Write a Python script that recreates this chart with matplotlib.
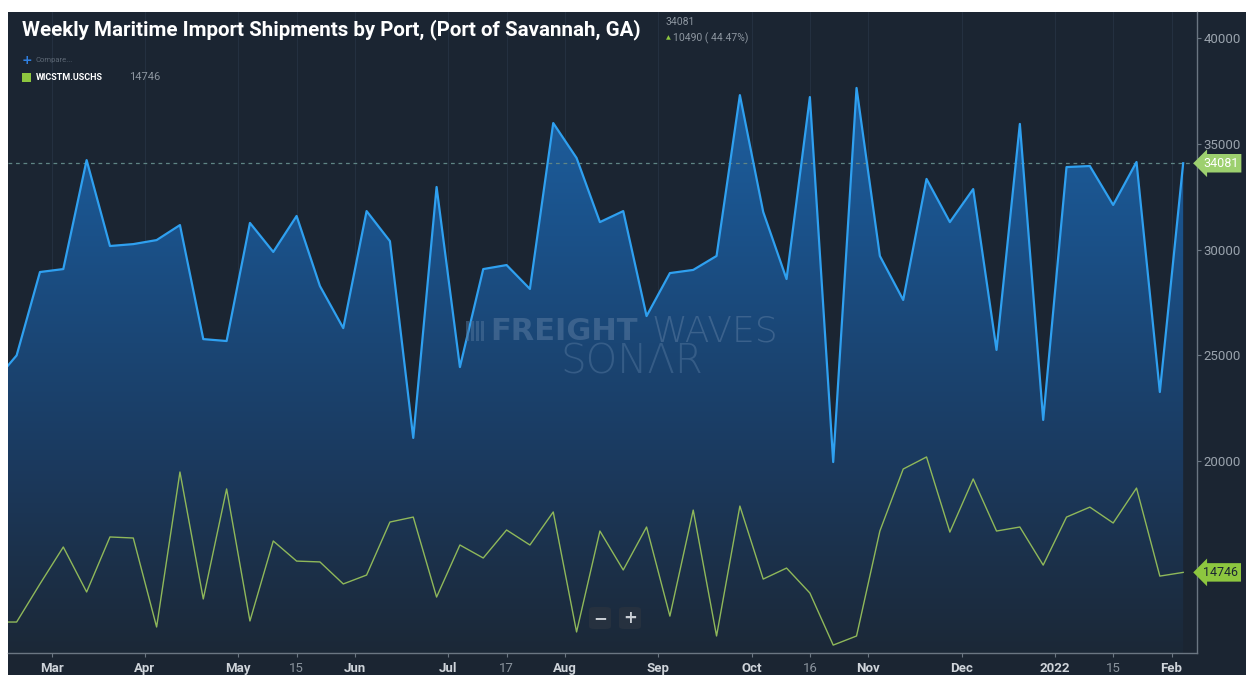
import matplotlib
matplotlib.use("Agg")
import matplotlib.pyplot as plt
import numpy as np
from matplotlib.colors import LinearSegmentedColormap
from matplotlib.patches import Rectangle, FancyBboxPatch
from matplotlib import transforms

# weekly points (index 0 sits just left of the visible area)
weeks = np.arange(52)
shipments_sav = [
    23700, 25000, 28940, 29080, 34230, 30170, 30260, 30450, 31160, 25770,
    25680, 31260, 29890, 31590, 28280, 26290, 31820, 30400, 21100, 32960,
    24450, 29080, 29270, 28140, 35980, 34330, 31300, 31820, 26860, 28890,
    29040, 29700, 37300, 31780, 28610, 37210, 19960, 37640, 29700, 27620,
    33340, 31300, 32860, 25260, 35940, 21950, 33900, 33950, 32110, 34140,
    23270, 34081,
]
shipments_chs = [
    12400, 12400, 14200, 15945, 13820, 16420, 16370, 12165, 19490, 13490,
    18690, 12450, 16230, 15280, 15240, 14200, 14620, 17125, 17360, 13580,
    16040, 15425, 16750, 16040, 17600, 11930, 16700, 14860, 16890, 12680,
    17690, 11740, 17880, 14430, 14950, 13770, 11310, 11740, 16700, 19630,
    20200, 16650, 19160, 16700, 16890, 15090, 17360, 17830, 17080, 18730,
    14570, 14746,
]
tick_pos = [2.5, 6.5, 10.5, 13, 15.5, 19.5, 22, 24.5, 28.5, 32.5, 35, 37.5,
            41.5, 45.5, 48, 50.5]
tick_labels = ["Mar", "Apr", "May", "15", "Jun", "Jul", "17", "Aug", "Sep",
               "Oct", "16", "Nov", "Dec", "2022", "15", "Feb"]
y_ticks = [20000, 25000, 30000, 35000, 40000]

W, H = 1246, 675
BG = "#1b2532"
BLUE = "#2fa0f0"
GREEN = "#8fb85a"
AXIS = "#6b7682"
WM = "#4d7199"

fig = plt.figure(figsize=(W / 100, H / 100), dpi=100, facecolor="white")


def px(x, y):
    return x / W, 1 - y / H


# dark card behind everything
fig.patches.append(Rectangle(px(8, 675), (W - 8) / W, (675 - 12) / H,
                             transform=fig.transFigure, facecolor=BG,
                             edgecolor="none", zorder=-5))

left, right, bottom, top = 8, 1196.7, 653.3, 12
ax = fig.add_axes([left / W, 1 - bottom / H, (right - left) / W, (bottom - top) / H])
ax.set_facecolor(BG)
xmin, xmax = 0.63, 51.58
ymin, ymax = 10922, 41229

# vertical grid
for t in tick_pos:
    ax.axvline(t, color="#243040", lw=0.8, zorder=0.5)

# gradient fill under the blue line
poly = ax.fill_between(weeks, shipments_sav, ymin, facecolor="none", edgecolor="none")
cmap = LinearSegmentedColormap.from_list(
    "fade", [(0, "#1c2837"), (0.3, "#1b3a5f"), (0.65, "#1a5189"), (1, "#2066aa")])
grad = np.linspace(0, 1, 256).reshape(-1, 1)
im = ax.imshow(grad, extent=[xmin, xmax, ymin, ymax], aspect="auto",
               origin="lower", cmap=cmap, zorder=1, interpolation="bilinear")
im.set_clip_path(poly.get_paths()[0], transform=ax.transData)

ax.plot(weeks, shipments_sav, color=BLUE, lw=1.6, zorder=3)
ax.plot(weeks, shipments_chs, color=GREEN, lw=1.0, zorder=3)
ax.axhline(shipments_sav[-1], color="#5f8585", lw=0.9, ls=(0, (3, 3)), zorder=2)

ax.set_xlim(xmin, xmax)
ax.set_ylim(ymin, ymax)

for s in ["top", "left"]:
    ax.spines[s].set_visible(False)
for s in ["bottom", "right"]:
    ax.spines[s].set_color(AXIS)
    ax.spines[s].set_linewidth(1.0)

ax.set_xticks(tick_pos)
ax.set_xticklabels(tick_labels)
ax.tick_params(axis="x", colors=AXIS, length=3, pad=3)
for lab in ax.get_xticklabels():
    txt = lab.get_text()
    lab.set_fontfamily("Roboto")
    lab.set_fontsize(9.5)
    if txt.isdigit() and txt != "2022":
        lab.set_color("#8a939d")
    else:
        lab.set_color("#cfd4da")
        lab.set_fontweight("bold")

ax.yaxis.tick_right()
ax.set_yticks(y_ticks)
ax.set_yticklabels([str(v) for v in y_ticks])
ax.tick_params(axis="y", colors=AXIS, length=3, pad=2)
for lab in ax.get_yticklabels():
    lab.set_fontfamily("Roboto")
    lab.set_fontsize(9.5)
    lab.set_color("#9aa3ad")

# value tags on the right
tr = transforms.blended_transform_factory(ax.transAxes, ax.transData)
ax.text(1.0055, shipments_sav[-1], str(shipments_sav[-1]), transform=tr,
        ha="left", va="center", fontsize=9, family="Roboto", color="white",
        clip_on=False, zorder=6,
        bbox=dict(boxstyle="larrow,pad=0.22", fc="#9dd06f", ec="none"))
ax.text(1.0055, shipments_chs[-1], str(shipments_chs[-1]), transform=tr,
        ha="left", va="center", fontsize=9, family="Roboto", color="#1b2532",
        clip_on=False, zorder=6,
        bbox=dict(boxstyle="larrow,pad=0.22", fc="#8dc63f", ec="none"))

# watermark
fig.text(*px(490, 331), "FREIGHT", ha="left", va="center", fontsize=22,
         fontweight="bold", family="DejaVu Sans", color=WM, alpha=0.65, zorder=4)
fig.text(*px(652, 331), "WAVES", ha="left", va="center", fontsize=26,
         fontweight="light", family="DejaVu Sans", color=WM, alpha=0.65, zorder=4)
fig.text(*px(632, 362), "SONΛR", ha="center", va="center", fontsize=29,
         fontweight="light", family="DejaVu Sans", color=WM, alpha=0.55, zorder=4)
for i in range(4):
    fig.patches.append(Rectangle(px(466 + i * 5, 341), 2.5 / W, 20 / H,
                                 transform=fig.transFigure, facecolor=WM,
                                 alpha=0.55, edgecolor="none", zorder=4))

# zoom buttons
for cx, sym in [(600, "\u2212"), (630, "+")]:
    fig.patches.append(FancyBboxPatch(px(cx - 11, 629), 22 / W, 22 / H,
                                      boxstyle="round,pad=0,rounding_size=0.004",
                                      transform=fig.transFigure, facecolor="#26313f",
                                      edgecolor="none", zorder=5))
    fig.text(*px(cx, 618), sym, ha="center", va="center", fontsize=12,
             fontweight="bold", color="#c9ced4", zorder=6)

# title and header values
fig.text(*px(22, 30), "Weekly Maritime Import Shipments by Port, (Port of Savannah, GA)",
         ha="left", va="center", fontsize=14.8, fontweight="bold",
         family="Roboto", color="white")
fig.text(*px(666, 22), "34081", ha="left", va="center", fontsize=7.5,
         family="Roboto", color="#8d96a0")
fig.text(*px(666, 38), "\u25b2", ha="left", va="center", fontsize=4.5,
         color="#8dc63f")
fig.text(*px(673, 38), "10490 ( 44.47%)", ha="left", va="center", fontsize=7.5,
         family="Roboto", color="#8d96a0")

# legend
fig.text(*px(22, 60), "+", ha="left", va="center", fontsize=9,
         fontweight="bold", color="#2f7fe0")
fig.text(*px(35, 60), "Compare...", ha="left", va="center", fontsize=5.5,
         family="Roboto", color="#5d6875")
fig.patches.append(Rectangle(px(22, 82), 9 / W, 9 / H, transform=fig.transFigure,
                             facecolor="#8dc63f", edgecolor="none", zorder=5))
fig.text(*px(36, 77), "WICSTM.USCHS", ha="left", va="center", fontsize=6.5,
         fontweight="bold", family="Roboto", color="white")
fig.text(*px(129, 77), "14746", ha="left", va="center", fontsize=8,
         family="Roboto", color="#8d96a0")

fig.savefig("out.png", dpi=100, facecolor="white")
